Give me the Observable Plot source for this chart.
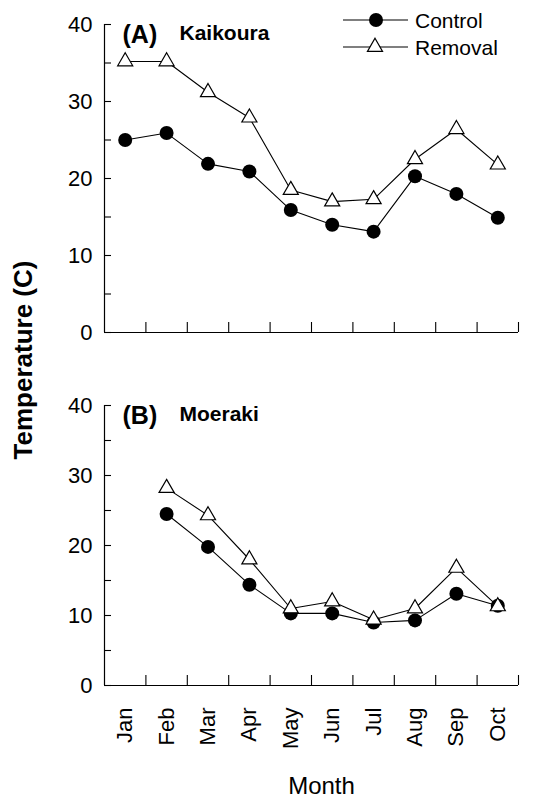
<!DOCTYPE html>
<html>
<head>
<meta charset="utf-8">
<script src="https://cdn.jsdelivr.net/npm/d3@7"></script>
<script src="https://cdn.jsdelivr.net/npm/@observablehq/plot@0.6"></script>
<style>
  html, body { margin: 0; padding: 0; background: #fff; }
  #fig { position: relative; width: 536px; height: 800px; font-family: "Liberation Sans", Arial, sans-serif; }
  #fig svg { display: block; }
  .ylab { position: absolute; left: 23px; top: 360px; transform: translate(-50%, -50%) rotate(-90deg);
          white-space: nowrap; font-weight: bold; font-size: 26px; color: #000; }
  #legend { position: absolute; left: 0; top: 0; }
</style>
</head>
<body>
<div id="fig"></div>
<script>
// ---- data ----
const months = ["Jan", "Feb", "Mar", "Apr", "May", "Jun", "Jul", "Aug", "Sep", "Oct"];
const seriesNames = ["Control", "Removal"];
const panelLetters = ["(A)", "(B)"];
const sites = ["Kaikoura", "Moeraki"];
const kaikouraControl = [25.0, 25.9, 21.9, 20.9, 15.9, 14.0, 13.1, 20.3, 18.0, 14.9];
const kaikouraRemoval = [35.2, 35.2, 31.2, 27.9, 18.5, 17.0, 17.3, 22.5, 26.4, 21.8];
const moerakiControl  = [null, 24.5, 19.8, 14.4, 10.3, 10.3, 9.0, 9.3, 13.1, 11.4];
const moerakiRemoval  = [null, 28.2, 24.3, 18.0, 11.0, 12.0, 9.4, 11.0, 16.8, 11.3];
const yLabelTicks = [0, 10, 20, 30, 40];
const yAllTicks = [0, 5, 10, 15, 20, 25, 30, 35, 40];
const yLabel = "Temperature (C)";
const xLabel = "Month";

function rows(values, series) {
  return values.map((v, i) => ({i, month: months[i], value: v, series}))
               .filter(d => d.value != null);
}

const xDomain = [-0.5, months.length - 0.5];
const xBoundaries = d3.range(1, months.length + 1).map(k => k - 0.5);
const yDomain = [0, 40];

function panel({control, removal, letter, site, height, marginTop, marginBottom, showX}) {
  const c = rows(control, seriesNames[0]);
  const r = rows(removal, seriesNames[1]);
  const marks = [
    // axis lines
    Plot.ruleX([xDomain[0]], {y1: yDomain[0], y2: yDomain[1], stroke: "black", strokeWidth: 1.2}),
    Plot.ruleY([yDomain[0]], {x1: xDomain[0], x2: xDomain[1], stroke: "black", strokeWidth: 1.2}),
    // inward y ticks
    Plot.ruleY(yAllTicks, {x1: xDomain[0], x2: xDomain[0], insetRight: -7, stroke: "black", strokeWidth: 1.1}),
    // inward x ticks at month boundaries
    Plot.ruleX(xBoundaries, {y1: yDomain[0], y2: yDomain[0], insetTop: -10, stroke: "black", strokeWidth: 1.1}),
    Plot.axisY(yLabelTicks, {tickSize: 0, tickPadding: 12, fontSize: 22, label: null}),
    // lines
    Plot.line(c, {x: "i", y: "value", stroke: "black", strokeWidth: 1.1}),
    Plot.line(r, {x: "i", y: "value", stroke: "black", strokeWidth: 1.1}),
    // markers
    Plot.dot(c, {x: "i", y: "value", r: 7, fill: "black", stroke: "none"}),
    Plot.dot(r, {x: "i", y: "value", symbol: "triangle", r: 5.6, fill: "white", stroke: "black", strokeWidth: 1.2}),
    // panel title
    Plot.text([letter], {text: d => d, frameAnchor: "top-left", dx: 18, dy: 1, fontWeight: "bold", fontSize: 25}),
    Plot.text([site], {text: d => d, frameAnchor: "top-left", dx: 75, dy: 1, fontWeight: "bold", fontSize: 21})
  ];
  if (showX) {
    marks.push(Plot.axisX(d3.range(months.length), {
      tickSize: 0, tickPadding: 22, tickRotate: -90, fontSize: 22,
      tickFormat: k => months[k], label: null
    }));
    marks.push(Plot.text([xLabel], {text: d => d, frameAnchor: "bottom", dx: 10, dy: 108, fontSize: 24}));
  }
  return Plot.plot({
    width: 536,
    height,
    marginLeft: 104,
    marginRight: 18,
    marginTop,
    marginBottom,
    style: {fontFamily: "Liberation Sans, Arial, sans-serif", fontSize: "22px", color: "black", background: "white", overflow: "visible"},
    x: {type: "linear", domain: xDomain, axis: null},
    y: {domain: yDomain, axis: null},
    marks
  });
}

const fig = document.getElementById("fig");
fig.appendChild(panel({control: kaikouraControl, removal: kaikouraRemoval, letter: panelLetters[0], site: sites[0],
  height: 370, marginTop: 24, marginBottom: 38, showX: false}));
fig.appendChild(panel({control: moerakiControl, removal: moerakiRemoval, letter: panelLetters[1], site: sites[1],
  height: 430, marginTop: 35, marginBottom: 115, showX: true}));

// y label
const yl = document.createElement("div");
yl.className = "ylab";
yl.textContent = yLabel;
fig.appendChild(yl);

// legend
const legend = d3.create("svg").attr("id", "legend").attr("width", 536).attr("height", 70)
  .style("position", "absolute").style("left", "0px").style("top", "0px").style("overflow", "visible");
const legendRows = [
  {name: seriesNames[0], y: 20, kind: "circle"},
  {name: seriesNames[1], y: 47, kind: "triangle"}
];
for (const row of legendRows) {
  const g = legend.append("g").attr("transform", `translate(0,${row.y})`);
  g.append("line").attr("x1", 343).attr("x2", 408).attr("y1", 0).attr("y2", 0).attr("stroke", "black").attr("stroke-width", 1.1);
  if (row.kind === "circle") {
    g.append("circle").attr("cx", 376).attr("cy", 0).attr("r", 7).attr("fill", "black");
  } else {
    g.append("path").attr("transform", "translate(375,0)").attr("d", d3.symbol(d3.symbolTriangle, Math.PI * 5.6 * 5.6)())
      .attr("fill", "white").attr("stroke", "black").attr("stroke-width", 1.2);
  }
  g.append("text").attr("x", 415).attr("y", 7.5).attr("font-size", 21)
    .attr("font-family", "Liberation Sans, Arial, sans-serif").attr("fill", "black").text(row.name);
}
fig.appendChild(legend.node());
</script>
</body>
</html>
